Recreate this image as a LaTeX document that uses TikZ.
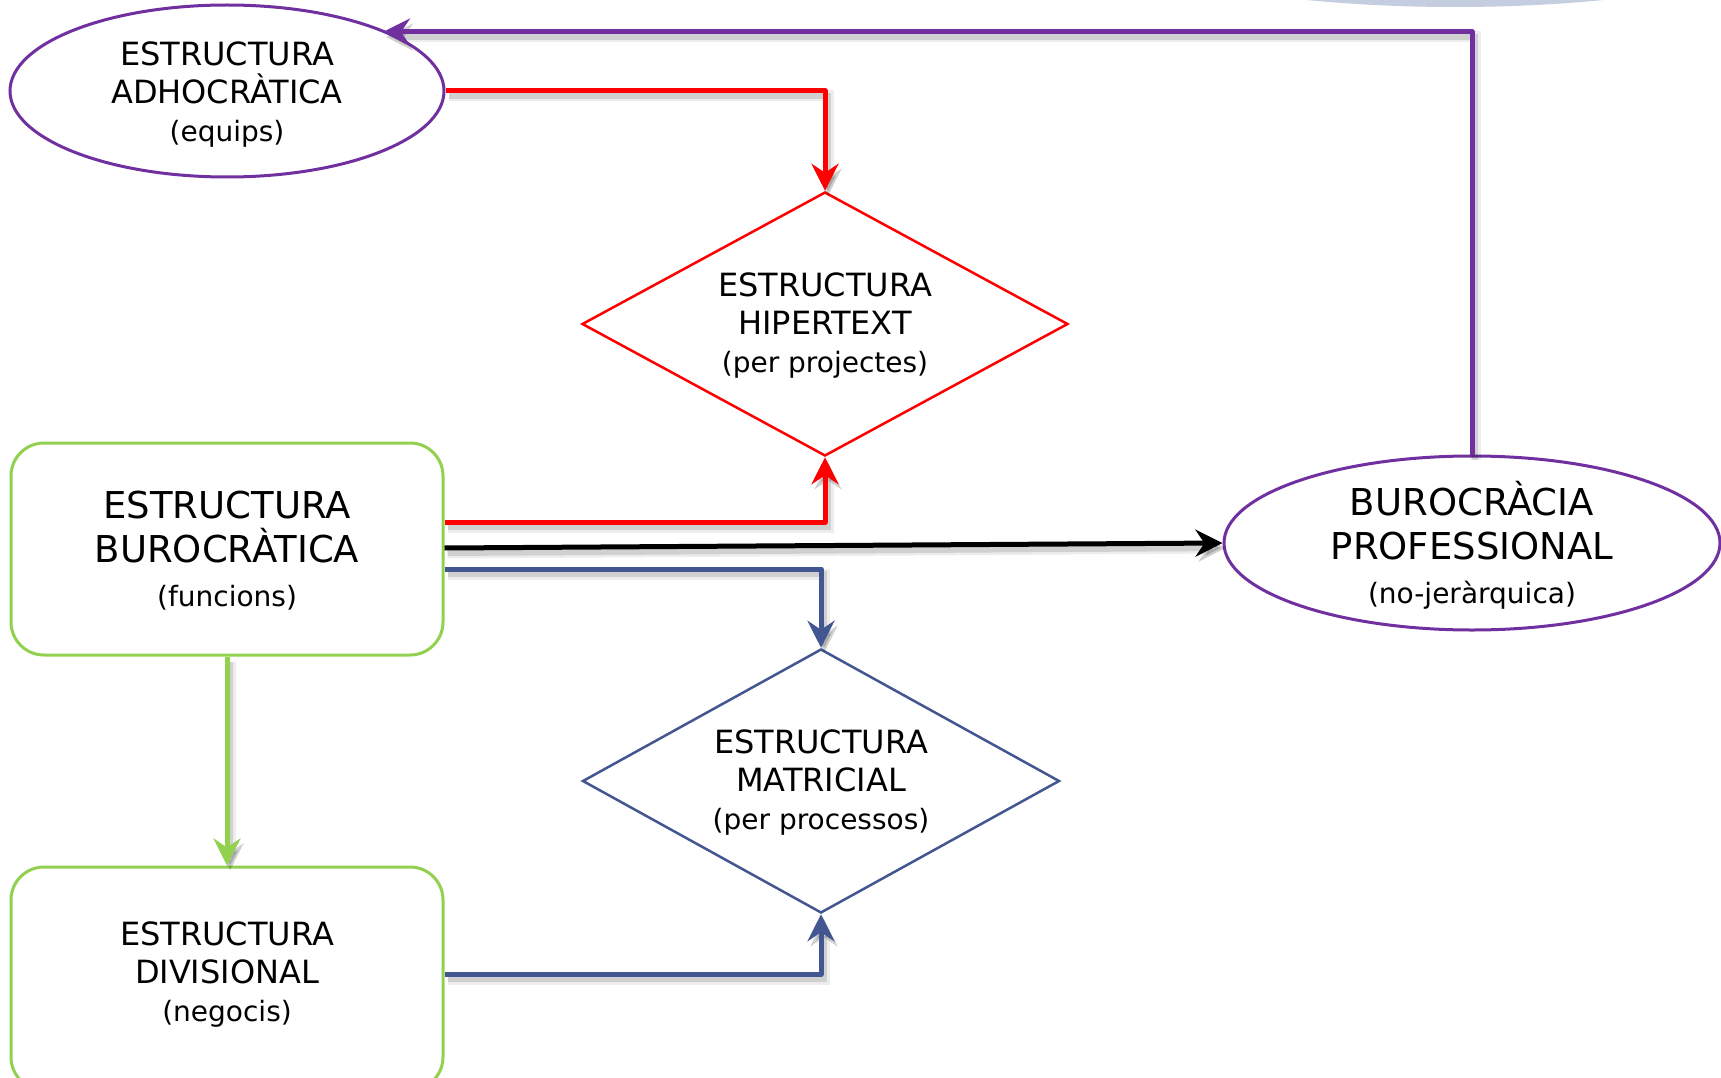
\documentclass[tikz,border=0pt]{standalone}
\usepackage{fontspec}
\setmainfont{DejaVu Sans}
\usetikzlibrary{shapes.geometric,arrows.meta}
\definecolor{orgpurple}{HTML}{7030A0}
\definecolor{orgred}{HTML}{FF0000}
\definecolor{orgblue}{HTML}{425791}
\definecolor{orggreen}{HTML}{92D050}
\definecolor{cloudfill}{HTML}{C5CDE0}
\newcommand\parenline[1]{{\fontsize{28}{36}\selectfont #1}}
\begin{document}
\begin{tikzpicture}[x=1pt,y=-1pt,
  conn/.style={line width=5pt, line join=round,
    -{Stealth[length=27pt,width=27pt,inset=9pt]},
    preaction={draw=black, draw opacity=0.07, fill opacity=0.07, line width=11pt,
      transform canvas={shift={(3,5)}}},
    preaction={draw=black, draw opacity=0.12, fill opacity=0.12, line width=6pt,
      transform canvas={shift={(3,5)}}}},
  ovalbox/.style={ellipse, draw=orgpurple, line width=3pt, fill=white, inner sep=0pt},
  diabox/.style={diamond, line width=2.5pt, fill=white, inner sep=0pt, shape aspect=1.84},
  roundbox/.style={rectangle, rounded corners=33pt, draw=orggreen, line width=3pt, fill=white, inner sep=0pt},
  txt/.style={align=center, inner sep=0pt, font=\fontsize{32}{38}\selectfont},
  bigtxt/.style={align=center, inner sep=0pt, font=\fontsize{37}{44}\selectfont}]
\path[use as bounding box, clip] (0,0) rectangle (1721,1078);
\fill[white] (0,0) rectangle (1721,1078);

% shape peeking in at the top edge
\fill[cloudfill] (1455,-73) ellipse [x radius=362, y radius=80];

% nodes
\node[ovalbox, minimum width=434pt, minimum height=172pt] (adho) at (227,91) {};
\node[txt] at (227,95) {ESTRUCTURA\\ADHOCRÀTICA\\\parenline{(equips)}};

\node[diabox, draw=orgred, minimum width=486pt, minimum height=264pt] (hiper) at (825,324) {};
\node[txt] at (825,326) {ESTRUCTURA\\HIPERTEXT\\\parenline{(per projectes)}};

\node[diabox, draw=orgblue, minimum width=477pt, minimum height=264pt] (matr) at (821,781) {};
\node[txt] at (821,783) {ESTRUCTURA\\MATRICIAL\\\parenline{(per processos)}};

\node[roundbox, minimum width=432pt, minimum height=212pt] (buro) at (227,549) {};
\node[bigtxt] at (227,551) {ESTRUCTURA\\BUROCRÀTICA\\\parenline{(funcions)}};

\node[roundbox, minimum width=432pt, minimum height=223pt] (divi) at (227,978.5) {};
\node[txt] at (227,975) {ESTRUCTURA\\DIVISIONAL\\\parenline{(negocis)}};

\node[ovalbox, minimum width=496pt, minimum height=174pt] (prof) at (1472,543) {};
\node[bigtxt] at (1472,545) {BUROCRÀCIA\\PROFESSIONAL\\\parenline{(no-jeràrquica)}};

% connectors
\coordinate (buroR) at ([yshift=27pt]buro.east);
\coordinate (buroK) at ([yshift=1pt]buro.east);
\coordinate (buroB) at ([yshift=-20pt]buro.east);
\coordinate (diviB) at ([yshift=4.5pt]divi.east);
\coordinate (topturn) at (1472,32);
\coordinate (adhoIn) at (383,32);

\draw[conn, orgred] (adho.east) -| (hiper.north);
\draw[conn, orgred] (buroR) -| (hiper.south);
\draw[conn, black] (buroK) -- (prof.west);
\draw[conn, orgblue] (buroB) -| (matr.north);
\draw[conn, orgblue] (diviB) -| (matr.south);
\draw[conn, orggreen] (buro.south) -- (divi.north);
\draw[conn, orgpurple] (prof.north) -- (topturn) -- (adhoIn);
\end{tikzpicture}
\end{document}
